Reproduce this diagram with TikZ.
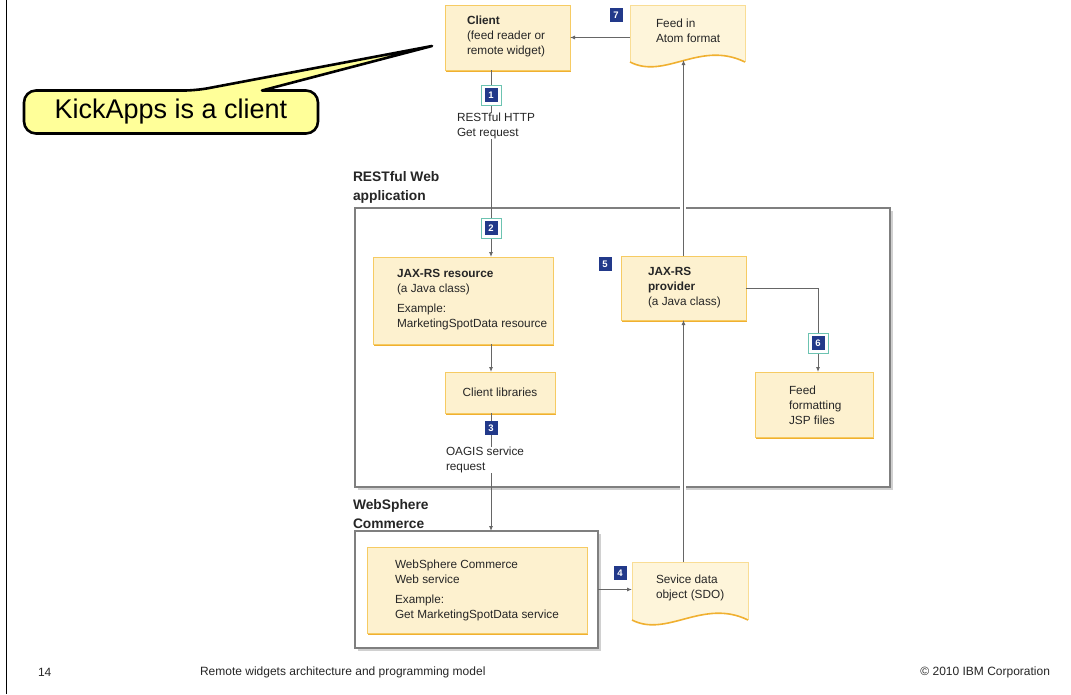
\documentclass[tikz,border=0pt]{standalone}
\usepackage{fontspec}
\setmainfont{Liberation Sans}
\usetikzlibrary{arrows.meta,shadows,calc}
\definecolor{boxfill}{HTML}{FDF1CF}
\definecolor{boxline}{HTML}{F6CB63}
\definecolor{boxshade}{HTML}{F0B030}
\definecolor{docfill}{HTML}{FEF5DA}
\definecolor{docline}{HTML}{F9DD95}
\definecolor{navy}{HTML}{22398A}
\definecolor{tealc}{HTML}{6CC3B1}
\definecolor{connc}{HTML}{666666}
\definecolor{frame}{HTML}{7F7F7F}
\definecolor{frameshade}{HTML}{D0D0D0}
\definecolor{calloutc}{HTML}{FFFF99}
\newcommand{\dfs}{\fontsize{11.8}{15}\selectfont}
\newcommand{\lfs}{\fontsize{13.8}{19}\selectfont\bfseries}
\newcommand{\docshape}[1]{%
 \fill[docfill] (#1.north west) -- (#1.north east) -- (#1.south east)
   .. controls ($(#1.south east)+(-45,-22)$) and ($(#1.south west)+(35,18)$) .. (#1.south west) -- cycle;
 \draw[docline, line width=0.8pt] (#1.south west) -- (#1.north west) -- (#1.north east) -- (#1.south east);
 \draw[boxshade, line width=1.6pt] (#1.south west)
   .. controls ($(#1.south west)+(35,18)$) and ($(#1.south east)+(-45,-22)$) .. (#1.south east);}
\begin{document}
\begin{tikzpicture}[x=1pt,y=-1pt,
  every node/.style={inner sep=0pt, outer sep=0pt},
  ybox/.style={draw=boxline, line width=0.8pt, fill=boxfill, anchor=north west,
    drop shadow={shadow xshift=1.3pt, shadow yshift=-1.6pt, fill=boxshade, opacity=1}},
  frm/.style={draw=frame, line width=1.1pt, fill=white, anchor=north west,
    drop shadow={shadow xshift=3pt, shadow yshift=-3pt, fill=frameshade, opacity=1}},
  docarea/.style={anchor=north west},
  txt/.style={anchor=west, align=left, font=\dfs, text=black!85},
  lbl/.style={anchor=west, align=left, font=\lfs, text=black!85},
  conn/.style={draw=connc, line width=0.9pt},
  arr/.style={conn, -{Latex[length=5pt,width=4pt]}},
  badge/.style={fill=navy, text=white, font=\fontsize{9.5}{9.5}\selectfont\bfseries,
    minimum width=13pt, minimum height=14pt},
  ring/.style={draw=tealc, fill=white, line width=0.9pt, minimum size=20pt},
  foot/.style={font=\fontsize{12}{14}\selectfont, text=black!85}]
\useasboundingbox (0,0) rectangle (1071,694);
\fill[white] (0,0) rectangle (1071,694);
\draw[black, line width=1pt] (6,0) -- (6,694);

% frames
\node[frm, minimum width=535, minimum height=279] (rwa) at (355,208) {};
\node[lbl] (rwaL) at (353,187) {RESTful Web\\application};
\node[frm, minimum width=243, minimum height=117] (wso) at (355,531) {};
\node[lbl] (wsoL) at (353,514) {WebSphere\\Commerce};
\fill[white] (680,204) rectangle (686,211);
\fill[white] (680,482) rectangle (686,490);

% boxes
\node[ybox, minimum width=125, minimum height=65] (client) at (445,5) {};
\node[txt] (clientT) at (467,36) {\textbf{Client}\\(feed reader or\\remote widget)};
\node[docarea, minimum width=115, minimum height=57] (atom) at (630,5) {};
\docshape{atom}
\node[txt] (atomT) at (656,31) {Feed in\\Atom format};

\node[ybox, minimum width=180, minimum height=87] (res) at (373,257) {};
\node[txt] (resT) at (397,300) {\textbf{JAX-RS resource}\\(a Java class)\\[5pt]Example:\\MarketingSpotData resource};
\node[ybox, minimum width=125, minimum height=64] (prov) at (621,256) {};
\node[txt] (provT) at (648,288) {\textbf{JAX-RS}\\\textbf{provider}\\(a Java class)};
\node[ybox, minimum width=110, minimum height=41, font=\dfs, text=black!85] (clib) at (445,372) {Client libraries};
\node[ybox, minimum width=118, minimum height=65] (ffmt) at (755,372) {};
\node[txt] (ffmtT) at (789,405) {Feed\\formatting\\JSP files};
\node[ybox, minimum width=220, minimum height=86] (wsi) at (367,547) {};
\node[txt] (wsiT) at (395,590) {WebSphere Commerce\\Web service\\[5pt]Example:\\Get MarketingSpotData service};
\node[docarea, minimum width=116, minimum height=58] (sdo) at (632,562) {};
\docshape{sdo}
\node[txt] (sdoT) at (656,588) {Sevice data\\object (SDO)};

% connectors
\coordinate (spine) at (491,0);
\coordinate (fcol) at (818,0);
\coordinate (atombot) at (683.5,60);
\draw[arr] (atom.west |- client.east) -- (client.east);
\draw[conn] (client.south -| spine) -- (spine |- 0,200);
\draw[arr] (spine |- 0,200) -- (res.north -| spine);
\draw[arr] (res.south -| spine) -- (clib.north -| spine);
\draw[arr] (clib.south -| spine) -- (wso.north -| spine);
\draw[arr] (prov.north) -- (prov.north |- atombot);
\draw[arr] (prov.south |- sdo.north) -- (prov.south);
\draw[arr] (prov.east) -| (fcol |- ffmt.north);
\draw[arr] (wso.east) -- (wso.east -| sdo.west);

\node[txt, fill=white] (getT) at (457,126) {RESTful HTTP\\Get request};
\node[txt, fill=white] (oagT) at (446,460) {OAGIS service\\request};

% badges
\node[ring] (r1) at (491,95) {};
\node[badge] (b1) at (491,95) {1};
\node[ring] (r2) at (491,228) {};
\node[badge] (b2) at (491,228) {2};
\node[badge] (b3) at (491,428) {3};
\node[badge] (b4) at (620,573) {4};
\node[badge] (b5) at (605,264) {5};
\node[ring] (r6) at (818,343) {};
\node[badge] (b6) at (818,343) {6};
\node[badge] (b7) at (616,15) {7};

% callout
\node[minimum width=294, minimum height=43] (kick) at (171,112) {};
\coordinate (tip) at (432,46);
\path[fill=calloutc, draw=black, line width=2.6pt, line join=round]
  ($(kick.north west)+(172,0)$) -- (tip) -- ($(kick.north west)+(238,0)$)
  [rounded corners=12pt] -- (kick.north east) -- (kick.south east) -- (kick.south west) -- (kick.north west) -- cycle;
\node[font=\fontsize{27}{30}\selectfont] (kickT) at (kick.center) {KickApps is a client};

% footer
\node[foot, anchor=west] (pg) at (38,672) {14};
\node[foot, anchor=west] (ttl) at (200,672) {Remote widgets architecture and programming model};
\node[foot, anchor=east] (cpy) at (1050,672) {\textcopyright\ 2010 IBM Corporation};
\end{tikzpicture}
\end{document}
